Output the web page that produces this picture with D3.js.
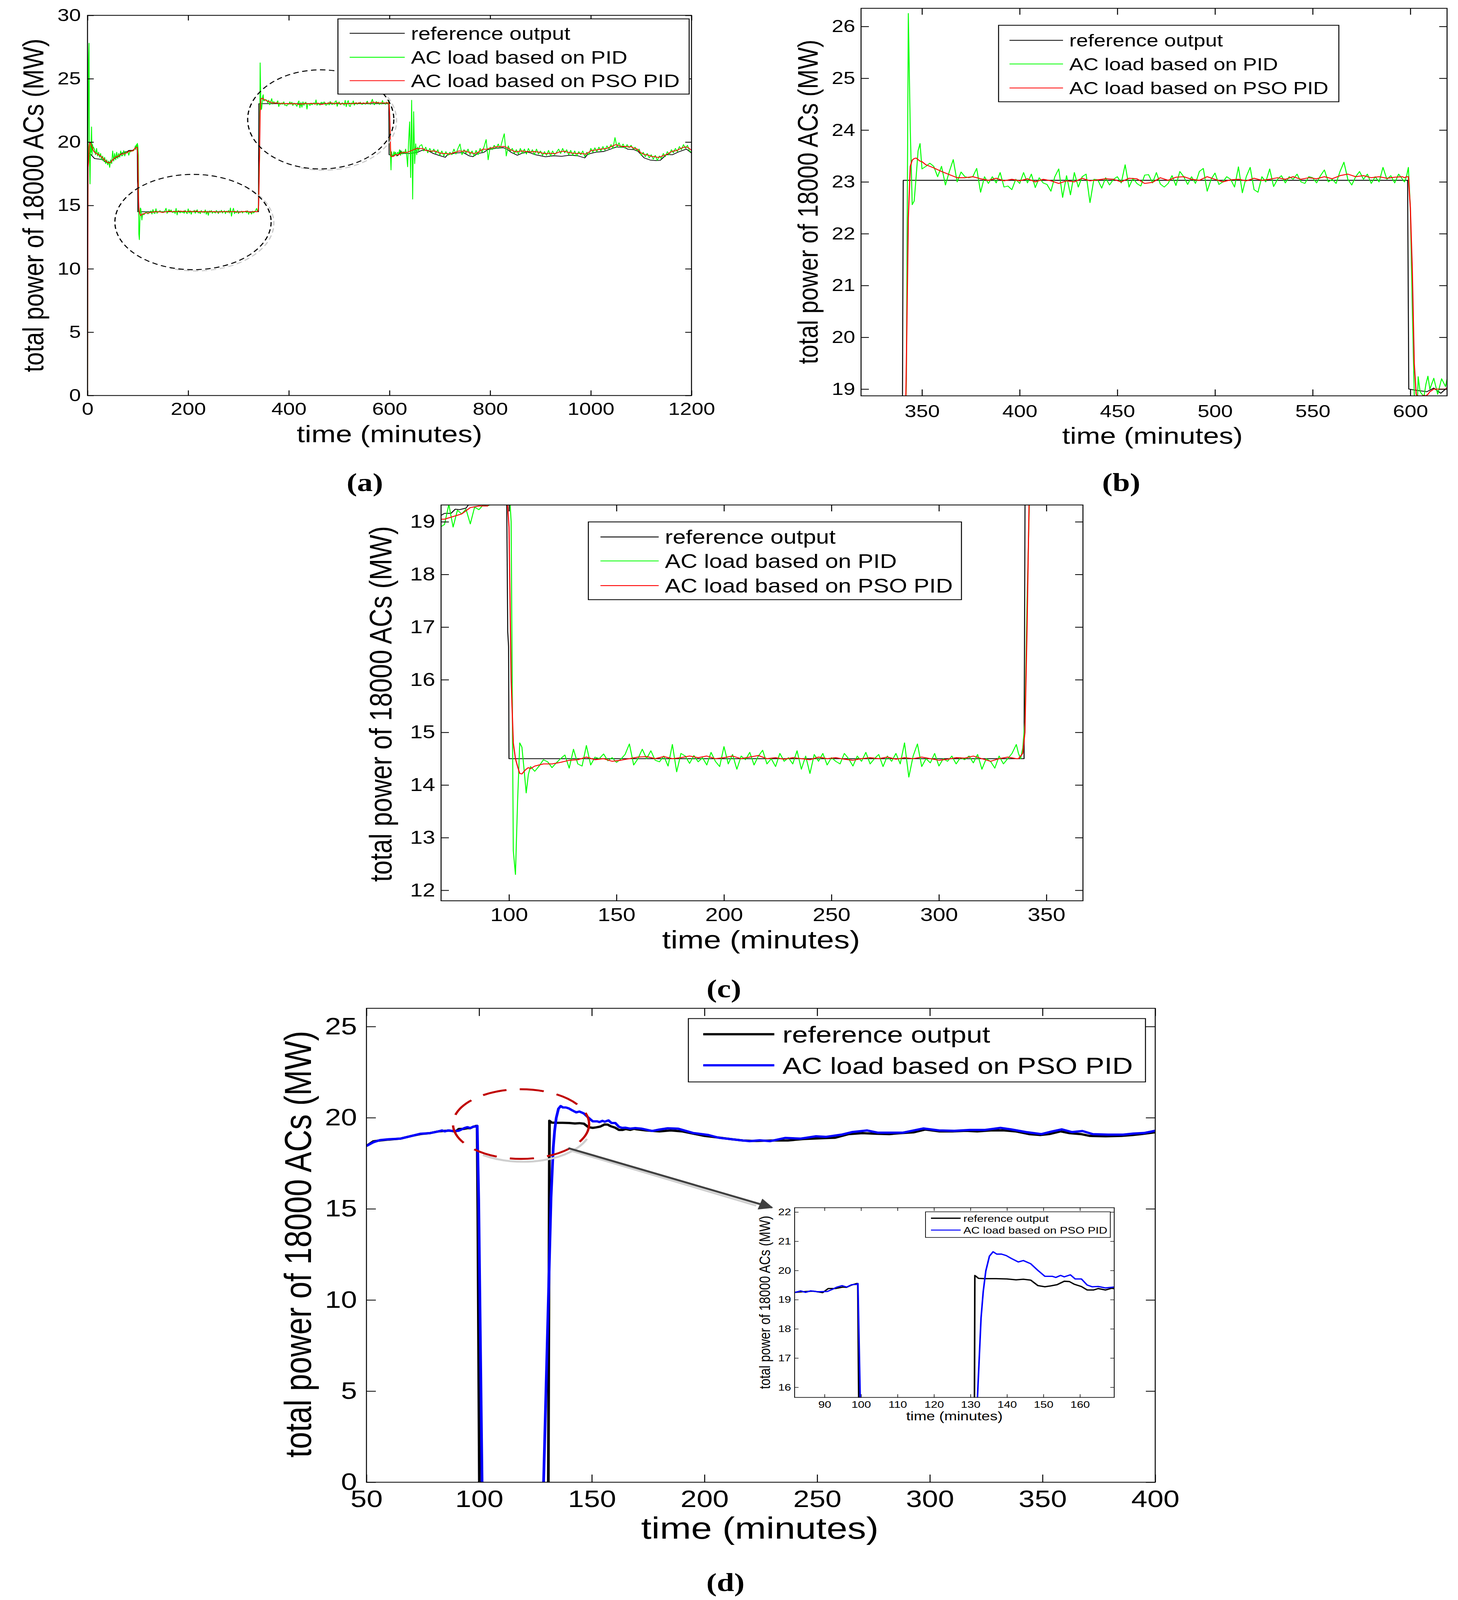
<!DOCTYPE html>
<html><head><meta charset="utf-8">
<script src="https://cdn.jsdelivr.net/npm/d3@7"></script>
<style>html,body{margin:0;padding:0;background:#fff;overflow:hidden} svg{display:block}</style>
</head><body>
<svg id="c" width="3732" height="5000" xmlns="http://www.w3.org/2000/svg"></svg>
<script>
// ---------------- DATA (panels a, b, c: same simulation) ----------------
const legendABC = ["reference output", "AC load based on PID", "AC load based on PSO PID"];
const legendD = ["reference output", "AC load based on PSO PID"];
const xTicksA = [0, 200, 400, 600, 800, 1000, 1200];
const yTicksA = [0, 5, 10, 15, 20, 25, 30];
const xTicksB = [350, 400, 450, 500, 550, 600];
const yTicksB = [19, 20, 21, 22, 23, 24, 25, 26];
const xTicksC = [100, 150, 200, 250, 300, 350];
const yTicksC = [12, 13, 14, 15, 16, 17, 18, 19];
const xTicksD = [50, 100, 150, 200, 250, 300, 350, 400];
const yTicksD = [0, 5, 10, 15, 20, 25];
const xTicksInset = [90, 100, 110, 120, 130, 140, 150, 160];
const yTicksInset = [16, 17, 18, 19, 20, 21, 22];

// reference output [time, MW]
const refSeries = [[0,19.1],[5,19.1],[8,18.96],[14,18.7],[28,18.63],[30,18.6],[36,18.4],[46,18.4],[48,18.5],[51,18.63],
 [56,18.75],[62,18.85],[66,19.0],[68.3,19.12],[70,19.16],[73,19.16],[75,19.24],[77,19.23],[80,19.26],[81.3,19.33],
 [85,19.35],[90,19.35],[93,19.45],[96,19.6],[98.9,19.6],[99.4,16.92],[99.8,16.63],[100,14.5],[339.6,14.5],[340.4,23.03],
 [598.6,23.03],[599.2,19.0],[602.5,18.98],[608.5,18.95],[612,19.02],[615.6,18.92],[619.2,19.04],[621,19.35],[623,19.1],[635,19.1],
 [639,19.1],[655,19.18],[665,19.36],[675,19.36],[687,19.1],[699,18.94],[711,18.8],[715,19.0],[730,19.13],[746,19.18],
 [758,18.92],[766,18.85],[775,19.1],[787,19.18],[795,19.4],[810,19.5],[826,19.56],[834,19.43],[842,19.18],[854,18.96],
 [862,19.1],[874,19.22],[890,19.0],[910,18.84],[926,18.92],[942,18.88],[958,18.96],[974,18.92],[988,18.75],[994,19.05],
 [1010,19.2],[1026,19.26],[1038,19.43],[1050,19.6],[1066,19.6],[1074,19.43],[1086,19.4],[1094,19.26],[1106,18.75],[1118,18.58],
 [1130,18.54],[1138,18.56],[1150,19.0],[1162,19.0],[1174,19.22],[1190,19.45],[1200,19.13]];

// AC load based on PID (green) - segments: values sampled evenly from start to end minute
const pidSeg1 = [0,18.0,26.5,27.8,19.0,16.7,19.8,19.2,21.2,19.0,19.8,19.5,19.6];            // 0..12
const pidSeg2 = [19.4,19.0,19.5,18.9,19.2,18.8,19.1,18.6,18.9,18.5,
 18.8,18.3,18.6,18.2,18.5,18.0,18.6,18.3,19.3,18.5,
 19.1,18.6,19.2,18.7,19.1,18.8,19.3,18.9,18.95,19.33,
 18.9,19.22,19.15,19.24,18.96,19.28,19.23,19.32,19.3,19.34,19.5];                          // 14..94
const pidSeg3 = [19.7,19.4,19.8,19.6,19.9,19.7,19.0,12.75,12.3,13.7,14.8,14.72,14.3,13.85,14.2,14.35]; // 95..110
const pidSeg4 = [14.26,14.36,14.48,14.44,14.33,14.42,14.5,14.57,14.32,14.68,
 14.4,14.36,14.75,14.38,14.53,14.5,14.59,14.46,14.52,14.43,
 14.49,14.58,14.78,14.38,14.5,14.68,14.5,14.65,14.47,14.44,
 14.55,14.36,14.77,14.25,14.6,14.55,14.41,14.56,14.44,14.52,
 14.38,14.62,14.45,14.35,14.73,14.4,14.58,14.3,14.55,14.48,
 14.62,14.38,14.55,14.66,14.4,14.5,14.35,14.6,14.45,14.52,
 14.4,14.65,14.3,14.55,14.22,14.58,14.45,14.6,14.38,14.52,
 14.45,14.4,14.6,14.5,14.36,14.55,14.45,14.62,14.4,14.5,
 14.58,14.35,14.55,14.45,14.6,14.4,14.8,14.15,14.55,14.78,
 14.35,14.5,14.42,14.6,14.36,14.5,14.45,14.55,14.4,14.52,
 14.48,14.55,14.42,14.58,14.3,14.5,14.45,14.32,14.55,14.4,
 14.5,14.6,14.77];                                                                          // 112..336
const pidSeg5 = [14.6,14.5,14.7,15.2,17.5,19.2,26.25,24.0,22.56,22.63,23.1,23.6,23.74,23.25]; // 337..350
const pidSeg6 = [23.3,23.36,23.3,23.1,23.3,22.94,23.2,23.43,23.0,23.19,
 23.1,23.08,23.1,23.26,22.8,23.1,22.97,23.1,22.98,23.18,
 22.9,22.92,22.85,23.05,22.97,23.18,22.98,23.15,22.89,23.08,
 22.98,22.95,22.82,23.1,23.25,22.7,23.12,22.75,23.18,22.9,
 23.1,23.15,22.6,23.05,23.04,22.88,23.08,22.94,23.05,23.1,
 22.98,23.33,22.9,23.07,22.97,22.92,23.13,23.14,22.98,23.18,
 22.96,22.9,22.97,23.12,22.93,23.2,23.1,
 22.95,23.1,22.97,23.2,23.26,22.82,23.05,23.17,22.95,23.0,
 23.1,23.05,22.9,23.29,22.79,23.1,23.28,22.85,22.8,23.1,
 23.0,23.25,22.91,23.05,23.12,22.98,23.1,23.05,23.15,23.0,
 22.97,23.1,23.08,22.98,23.12,23.23,23.0,23.05,22.97,23.2,
 23.38,23.05,22.94,23.1,23.2,23.05,23.15,22.97,23.1,23.0,
 23.28,23.05,23.12,22.98,23.15,23.05];                                                      // 352..596
const pidSeg7 = [23.0,23.1,23.28,22.5,20.6,18.9,17.8,19.24,18.95,18.9,18.86,19.1,19.25,19.0]; // 597..610
const pidSeg8 = [19.21,18.9,19.2,19.05,19.4,18.95,19.3,19.05,19.25,19.1,
 19.45,19.0,18.05,20.1,21.6,17.2,23.3,15.5,22.4,18.3,
 19.86,19.0,19.6,19.3,19.7];                                                                // 612..660
const pidSeg9 = [19.8,19.3,19.6,19.15,19.5,19.2,19.45,19.1,19.4,18.95,
 19.3,18.9,19.25,18.95,19.2,19.0,19.45,19.05,19.5,19.85,
 19.0,19.4,19.1,19.45,19.0,19.3,18.9,19.35,19.0,19.5,
 19.2,19.65,20.2,18.6,19.6,19.4,19.75,19.5,19.85,19.5,
 20.1,20.66,18.9,19.7,19.3,19.5,19.1,19.4,19.05,19.5,
 19.1,19.45,19.05,19.5,19.15,19.4,19.0,19.45,19.05,19.3,
 18.95,19.25,18.95,19.35,18.9,19.3,19.0,19.2,19.45,19.1,
 19.5,19.15,19.4,19.0,19.35,18.95,19.3,18.9,19.25,19.0,
 19.3,18.85,19.2,19.0,19.5,19.2,19.55,19.25,19.6,19.3,
 19.65,19.35,19.7,19.45,19.8,19.5,20.36,19.6,19.95,19.55,
 19.85,19.5,19.8,19.55,19.75,19.45,19.6,19.3,19.45,18.95,
 19.2,18.85,19.1,18.75,19.0,18.65,18.95,18.55,18.9,18.7,
 19.1,18.85,19.25,19.0,19.4,19.15,19.5,19.25,19.65,19.4,
 19.8,19.5,19.75,19.3,19.2];                                                                // 664..1200

// AC load based on PSO PID (red)
const psoSeg1 = [0,18.0,18.4,19.6,19.9,19.95,19.9,19.8,19.7,19.6,19.5,19.4,19.3];            // 0..12
const psoSeg2 = [19.2,19.1,19.0,18.9,18.75,18.6,18.45,18.35,18.4,18.6,
 18.75,18.85,18.9,19.05,19.05,19.1,19.15,19.27,19.3,19.3,19.5];                              // 14..94
const psoSeg3 = [19.5,19.55,19.6,19.6,19.55,18.9,16.0,14.8,14.5,14.35,14.22,14.21,14.26,14.3,14.33,14.31]; // 95..110
const psoSeg4 = [14.36,14.4,14.4,14.43,14.47,14.48,14.53,14.48,14.5,14.45,
 14.47,14.5,14.53,14.54,14.5,14.54,14.5,14.52,14.55,14.52,
 14.55,14.5,14.52,14.55,14.5,14.53,14.56,14.5,14.52,14.49,
 14.52,14.5,14.48,14.53,14.5,14.52,14.49,14.47,14.5,14.52,
 14.5,14.53,14.49,14.52,14.5,14.53,14.5,14.47,14.49,14.52,
 14.51,14.55,14.5,14.45,14.5,14.53,14.5];                                                   // 112..336
const psoSeg5 = [14.5,14.55,14.6,15.0,17.0,19.5,22.3,23.3,23.42,23.45,23.46,23.43,23.4,23.39]; // 337..350
const psoSeg6 = [23.33,23.27,23.2,23.14,23.08,23.08,23.1,23.06,23.03,23.07,
 23.02,23.05,23.02,23.06,23.0,23.05,23.02,22.97,23.02,23.0,
 23.07,23.02,23.04,23.06,23.05,23.0,23.07,23.06,22.97,22.99,
 23.08,23.03,23.09,23.1,23.05,23.03,23.1,23.05,23.0,23.04,
 23.05,23.02,23.07,23.03,23.05,23.08,23.05,23.1,23.05,23.08,
 23.06,23.1,23.06,23.12,23.15,23.1,23.12,23.08,23.1,23.07,
 23.09,23.1];                                                                               // 352..596
const psoSeg7 = [23.08,23.1,23.1,22.5,21.3,19.5,18.9,18.85,18.85,18.87,18.88,18.87,18.9,18.95]; // 597..610
const psoSeg8 = [19.0,19.0,19.18,19.18,19.2,19.3,19.4,19.5,19.48,19.5,
 19.35,19.3,19.28,19.3,19.2,19.12,19.1,19.1,19.05,19.15,
 19.2,19.3,19.27,19.3,19.22,19.15,19.1,19.15,19.3,19.45,
 19.42,19.5,19.55,19.62,19.64,19.64,19.66,19.55,19.4,19.3,
 19.22,19.28,19.3,19.25,19.25,19.22,19.25,19.22,19.18,19.1,
 19.1,19.12,19.1,19.1,19.2,19.26,19.28,19.2,19.15,19.12,
 19.1,19.12,19.08,19.05,19.2,19.35,19.36,19.4,19.45,19.47,
 19.5,19.6,19.7,19.8,19.72,19.65,19.66,19.62,19.64,19.5,
 19.45,19.2,19.05,19.0,18.95,18.85,18.84,18.78,18.88,18.95,
 19.05,19.2,19.3,19.32,19.45,19.56,19.62,19.55,19.35];                                       // 612..1200

// ---------------- DATA (panel d: second simulation) ----------------
const dReference = [[50,18.45],[53,18.7],[56,18.75],[60,18.8],[65,18.85],[70,19.0],[74,19.1],[78,19.15],[82,19.25],[85,19.28],
 [87,19.29],[89.5,19.24],[91,19.38],[93,19.38],[95,19.43],[96,19.42],[97.4,19.5],[98.7,19.55],[99.1,19.55],[99.4,15.0],
 [100.1,0],[115,null],[130.7,0],[131.2,19.83],[132.2,19.73],[134,19.72],[137,19.72],[140,19.71],[142.5,19.68],[144.5,19.7],
 [146.5,19.67],[148.5,19.48],[150.4,19.44],[152,19.47],[153.7,19.51],[155.7,19.63],[157.1,19.62],[158.4,19.53],[160.4,19.45],[162,19.33],
 [163.7,19.33],[165,19.38],[167,19.33],[168.7,19.39],[170,19.36],[174,19.3],[180,19.25],[185,19.3],[190,19.25],[194,19.15],
 [200,19.0],[207,18.9],[212,18.82],[217,18.75],[223,18.72],[230,18.75],[237,18.75],[244,18.83],[253,18.88],[258,18.9],
 [264,19.1],[270,19.15],[276,19.12],[282,19.1],[287,19.15],[293,19.2],[298,19.35],[304,19.25],[310,19.25],[316,19.28],
 [321,19.25],[327,19.3],[333,19.3],[338,19.25],[344,19.1],[349,19.05],[353,19.1],[358,19.25],[362,19.15],[367,19.1],
 [371,19.0],[378,18.98],[385,19.0],[390,19.05],[394,19.1],[400,19.2]];
const dPsoPid = [[50,18.45],[53,18.65],[56,18.77],[60,18.82],[65,18.85],[70,19.0],[74,19.12],[78,19.15],[82,19.25],[83.5,19.3],
 [84.8,19.25],[86.2,19.3],[88.1,19.27],[90.8,19.28],[92.1,19.35],[93.4,19.43],[94.8,19.48],[96.1,19.43],[97.4,19.51],[98.7,19.52],
 [99.15,19.55],[99.8,15.5],[101.3,0],[115,null],[128.6,0],[131.9,15.6],[132.9,18.37],[133.5,19.28],[134.2,19.98],[135.2,20.49],
 [136.2,20.64],[137.2,20.56],[138.5,20.56],[139.8,20.51],[141.2,20.41],[143.1,20.29],[144.5,20.34],[146.5,20.23],[148.5,20.0],[150.4,19.8],
 [152.4,19.8],[153.4,19.76],[154.7,19.83],[155.7,19.78],[157.4,19.85],[158.7,19.71],[160.4,19.71],[162,19.5],[163.4,19.44],[165,19.45],
 [167,19.4],[169.3,19.43],[172,19.4],[176.8,19.27],[180,19.35],[183.7,19.42],[188.2,19.4],[195,19.16],[201.8,19.05],[206.3,18.9],
 [215.4,18.77],[220,18.71],[224.5,18.76],[229,18.71],[235.9,18.89],[242.7,18.85],[249.5,18.98],[254,18.95],[260.8,19.07],[265.4,19.21],
 [272.2,19.3],[276.8,19.18],[281.3,19.18],[288.1,19.18],[297.2,19.41],[304,19.3],[310.9,19.28],[317.7,19.33],[324.5,19.33],[331.3,19.44],
 [335.9,19.36],[342.7,19.21],[349.5,19.1],[354,19.24],[358.6,19.36],[363.1,19.21],[367.7,19.27],[372.2,19.1],[379,19.07],[385.8,19.07],
 [390.4,19.13],[395,19.16],[399.5,19.27],[400,19.28]];

// ---------------- helpers ----------------
function fromSegments(segs) {
  const out = [];
  segs.forEach(([a, b, vals]) => {
    const n = vals.length;
    vals.forEach((v, i) => out.push({t: n > 1 ? a + (b - a) * i / (n - 1) : a, v: v}));
  });
  return out;
}
const fromPairs = p => p.map(([t, v]) => ({t: t, v: v}));

const refData = fromPairs(refSeries);
const pidData = fromSegments([[0,12,pidSeg1],[14,94,pidSeg2],[95,110,pidSeg3],[112,336,pidSeg4],[337,350,pidSeg5],
  [352,596,pidSeg6],[597,610,pidSeg7],[612,660,pidSeg8],[664,1200,pidSeg9]]);
const psoData = fromSegments([[0,12,psoSeg1],[14,94,psoSeg2],[95,110,psoSeg3],[112,336,psoSeg4],[337,350,psoSeg5],
  [352,596,psoSeg6],[597,610,psoSeg7],[612,1200,psoSeg8]]);
const dRefData = fromPairs(dReference);
const dPsoData = fromPairs(dPsoPid);

const SANS = "'Liberation Sans', Arial, Helvetica, sans-serif";
const SERIF = "'Liberation Serif', 'Times New Roman', serif";
// the figure is laid out on a 3732 x 5000 canvas and fitted into whatever viewport the browser really has
const VW = window.innerWidth || 3732, VH = window.innerHeight || 5000;
const svg = d3.select('#c').attr('width', VW).attr('height', VH)
  .attr('viewBox', '0 0 3732 5000').attr('preserveAspectRatio', 'none');
svg.append('rect').attr('width', 3732).attr('height', 5000).attr('fill', '#fff');
const defs = svg.append('defs');

function ellArc(cx, cy, rx, ry, a0, a1) {
  const p0 = [cx + rx * Math.cos(a0), cy + ry * Math.sin(a0)];
  const p1 = [cx + rx * Math.cos(a1), cy + ry * Math.sin(a1)];
  const large = (a1 - a0) > Math.PI ? 1 : 0;
  return `M${p0[0]},${p0[1]} A${rx},${ry} 0 ${large} 1 ${p1[0]},${p1[1]}`;
}

function drawPanel(c) {
  const x = d3.scaleLinear().domain(c.xd).range([c.L, c.R]);
  const y = d3.scaleLinear().domain(c.yd).range([c.B, c.T]);
  const g = svg.append('g');
  g.append('rect').attr('x', c.L).attr('y', c.T).attr('width', c.R - c.L).attr('height', c.B - c.T).attr('fill', '#fff');
  const cid = 'clip-' + c.id;
  defs.append('clipPath').attr('id', cid).append('rect')
    .attr('x', c.L).attr('y', c.T).attr('width', c.R - c.L).attr('height', c.B - c.T);
  const dg = g.append('g').attr('clip-path', `url(#${cid})`);
  const line = d3.line().defined(d => d.v !== null && !isNaN(d.v)).x(d => x(d.t)).y(d => y(d.v));
  c.series.forEach(s => {
    dg.append('path').datum(s.data).attr('d', line).attr('fill', 'none')
      .attr('stroke', s.color).attr('stroke-width', s.w).attr('stroke-linejoin', 'round');
  });
  if (c.annot) c.annot(g, x, y);
  const ax = (gen, tx, ty) => {
    const a = g.append('g').attr('transform', `translate(${tx},${ty})`).call(gen);
    a.select('.domain').remove();
    a.selectAll('line').attr('stroke', '#000').attr('stroke-width', c.tw);
    a.attr('font-size', c.fs).attr('font-family', SANS);
    a.selectAll('text').attr('fill', '#000');
    return a;
  };
  ax(d3.axisBottom(x).tickValues(c.xt).tickSizeInner(-c.tl).tickSizeOuter(0).tickPadding(c.xpad).tickFormat(d3.format('d')), 0, c.B);
  ax(d3.axisTop(x).tickValues(c.xt).tickSizeInner(-c.tl).tickSizeOuter(0).tickFormat(''), 0, c.T);
  ax(d3.axisLeft(y).tickValues(c.yt).tickSizeInner(-c.tl).tickSizeOuter(0).tickPadding(c.ypad).tickFormat(d3.format('d')), c.L, 0);
  ax(d3.axisRight(y).tickValues(c.yt).tickSizeInner(-c.tl).tickSizeOuter(0).tickFormat(''), c.R, 0);
  g.append('rect').attr('x', c.L).attr('y', c.T).attr('width', c.R - c.L).attr('height', c.B - c.T)
    .attr('fill', 'none').attr('stroke', '#000').attr('stroke-width', c.aw);
  g.append('text').attr('x', c.xlX).attr('y', c.xlY).attr('text-anchor', 'middle')
    .attr('font-family', SANS).attr('font-size', c.lfs).text('time (minutes)');
  g.append('text').attr('transform', `translate(${c.ylX},${c.ylY}) rotate(-90)`).attr('text-anchor', 'middle')
    .attr('font-family', SANS).attr('font-size', c.lfs).text('total power of 18000 ACs (MW)');
  const L = c.legend;
  g.append('rect').attr('x', L.x0).attr('y', L.y0).attr('width', L.x1 - L.x0).attr('height', L.y1 - L.y0)
    .attr('fill', '#fff').attr('stroke', '#000').attr('stroke-width', L.bw);
  L.rows.forEach((r, i) => {
    g.append('line').attr('x1', L.lx0).attr('x2', L.lx1).attr('y1', L.ry[i]).attr('y2', L.ry[i])
      .attr('stroke', r.color).attr('stroke-width', r.w);
    g.append('text').attr('x', L.tx).attr('y', L.ry[i]).attr('dy', '0.36em')
      .attr('font-family', SANS).attr('font-size', L.fs).text(r.label);
  });
  if (c.tag) {
    svg.append('text').attr('x', c.tag.x).attr('y', c.tag.y).attr('text-anchor', 'middle')
      .attr('font-family', SERIF).attr('font-weight', 'bold').attr('font-size', 80).text(c.tag.text);
  }
  return {x, y, g};
}

const GREEN = '#00ff00', RED = '#ff0000', BLACK = '#000000', BLUE = '#0000ff';

drawPanel({
  id: 'a', L: 224, R: 1770, T: 48, B: 1236, xd: [0, 1200], yd: [0, 30], xt: xTicksA, yt: yTicksA,
  fs: 54, xpad: 22, ypad: 17, tl: 16, tw: 2.5, aw: 2.5, lfs: 75,
  xlX: 997, xlY: 1382, ylX: 111, ylY: 642,
  series: [{data: refData, color: BLACK, w: 2.2}, {data: pidData, color: GREEN, w: 2.2}, {data: psoData, color: RED, w: 2.4}],
  annot: (g, x, y) => {
    [[209.6, 13.69, 155.2, 3.76], [463.4, 21.79, 145.2, 3.91]].forEach(([t, v, rt, rv]) => {
      const cx = x(t), cy = y(v), rx = x(rt) - x(0), ry = y(0) - y(rv);
      g.append('path').attr('d', ellArc(cx + 7, cy + 4, rx, ry, -0.9, 1.9))
        .attr('fill', 'none').attr('stroke', '#c8c8c8').attr('stroke-width', 3).attr('stroke-dasharray', '14 9');
      g.append('ellipse').attr('cx', cx).attr('cy', cy).attr('rx', rx).attr('ry', ry)
        .attr('fill', 'none').attr('stroke', '#000').attr('stroke-width', 3).attr('stroke-dasharray', '14 9');
    });
  },
  legend: {x0: 865, y0: 59, x1: 1764, y1: 294, bw: 2.5, lx0: 895, lx1: 1036, tx: 1052, ry: [104, 179, 252], fs: 56,
    rows: [{label: legendABC[0], color: BLACK, w: 2.5}, {label: legendABC[1], color: GREEN, w: 2.5}, {label: legendABC[2], color: RED, w: 2.5}]},
  tag: {x: 934, y: 1534, text: '(a)'}
});

drawPanel({
  id: 'b', L: 2204, R: 3704, T: 26, B: 1237, xd: [318.8, 618.8], yd: [18.87, 26.35], xt: xTicksB, yt: yTicksB,
  fs: 54, xpad: 28, ypad: 15, tl: 20, tw: 2.5, aw: 2.5, lfs: 73,
  xlX: 2950, xlY: 1387, ylX: 2093, ylY: 631,
  series: [{data: refData, color: BLACK, w: 2.5}, {data: pidData, color: GREEN, w: 2.5}, {data: psoData, color: RED, w: 2.8}],
  legend: {x0: 2556, y0: 79, x1: 3427, y1: 318, bw: 2.5, lx0: 2584, lx1: 2721, tx: 2737, ry: [126, 200, 275], fs: 54,
    rows: [{label: legendABC[0], color: BLACK, w: 2.5}, {label: legendABC[1], color: GREEN, w: 2.5}, {label: legendABC[2], color: RED, w: 2.5}]},
  tag: {x: 2870, y: 1534, text: '(b)'}
});

drawPanel({
  id: 'c', L: 1129, R: 2772, T: 1578, B: 2815, xd: [68.4, 367], yd: [11.8, 19.32], xt: xTicksC, yt: yTicksC,
  fs: 58, xpad: 22, ypad: 15, tl: 20, tw: 2.5, aw: 2.5, lfs: 80,
  xlX: 1948, xlY: 2964, ylX: 1002, ylY: 2200,
  series: [{data: refData, color: BLACK, w: 2.5}, {data: pidData, color: GREEN, w: 2.5}, {data: psoData, color: RED, w: 2.8}],
  legend: {x0: 1506, y0: 1631, x1: 2461, y1: 1874, bw: 2.5, lx0: 1537, lx1: 1686, tx: 1702, ry: [1678, 1753, 1830], fs: 60,
    rows: [{label: legendABC[0], color: BLACK, w: 2.5}, {label: legendABC[1], color: GREEN, w: 2.5}, {label: legendABC[2], color: RED, w: 2.5}]},
  tag: {x: 1853, y: 3116, text: '(c)'}
});

defs.append('marker').attr('id', 'arrowhead').attr('viewBox', '0 0 10 10').attr('refX', 9).attr('refY', 5)
  .attr('markerWidth', 7).attr('markerHeight', 6).attr('markerUnits', 'strokeWidth').attr('orient', 'auto')
  .append('path').attr('d', 'M0,0 L10,5 L0,10 Z').attr('fill', '#404040');
drawPanel({
  id: 'd', L: 938, R: 2957, T: 3151, B: 4632, xd: [50, 400], yd: [0, 26], xt: xTicksD, yt: yTicksD,
  fs: 74, xpad: 25, ypad: 24, tl: 24, tw: 2.5, aw: 2.5, lfs: 96,
  xlX: 1945, xlY: 4808, ylX: 796, ylY: 3888,
  series: [{data: dRefData, color: BLACK, w: 7}, {data: dPsoData, color: BLUE, w: 7}],
  annot: (g, x, y) => {
    const cx = x(118.6), cy = y(19.65), rx = x(30.2) - x(0), ry = y(0) - y(1.91);
    g.append('path').attr('d', ellArc(cx + 5, cy + 9, rx, ry, 0.35, 2.2)).attr('fill', 'none')
      .attr('stroke', '#cfcfcf').attr('stroke-width', 6);
    g.append('ellipse').attr('cx', cx).attr('cy', cy).attr('rx', rx).attr('ry', ry)
      .attr('fill', 'none').attr('stroke', '#c00000').attr('stroke-width', 6).attr('stroke-dasharray', '62 34');
    const a0 = [x(139.6), y(18.33)], a1 = [x(229.9), y(15.07)];
    g.append('line').attr('x1', a0[0] + 4).attr('y1', a0[1] + 7).attr('x2', a1[0] - 40).attr('y2', a1[1] - 6)
      .attr('stroke', '#d0d0d0').attr('stroke-width', 6);
    g.append('line').attr('x1', a0[0]).attr('y1', a0[1]).attr('x2', a1[0]).attr('y2', a1[1])
      .attr('stroke', '#404040').attr('stroke-width', 6).attr('marker-end', 'url(#arrowhead)');
  },
  legend: {x0: 1762, y0: 3183, x1: 2932, y1: 3381, bw: 2.5, lx0: 1800, lx1: 1982, tx: 2003, ry: [3232, 3329], fs: 73,
    rows: [{label: legendD[0], color: BLACK, w: 7}, {label: legendD[1], color: BLUE, w: 7}]},
  tag: {x: 1857, y: 4972, text: '(d)'}
});

drawPanel({
  id: 'inset', L: 2034, R: 2852, T: 3774, B: 4367, xd: [81.8, 169.4], yd: [15.65, 22.15], xt: xTicksInset, yt: yTicksInset,
  fs: 30, xpad: 11, ypad: 9, tl: 10, tw: 1.6, aw: 2, lfs: 39,
  xlX: 2443, xlY: 4438, ylX: 1971, ylY: 4070,
  series: [{data: dRefData, color: BLACK, w: 4}, {data: dPsoData, color: BLUE, w: 4}],
  legend: {x0: 2369, y0: 3787, x1: 2842, y1: 3867, bw: 1.8, lx0: 2383, lx1: 2459, tx: 2466, ry: [3807, 3844], fs: 30,
    rows: [{label: legendD[0], color: BLACK, w: 4}, {label: legendD[1], color: BLUE, w: 3}]}
});
</script>
</body></html>
